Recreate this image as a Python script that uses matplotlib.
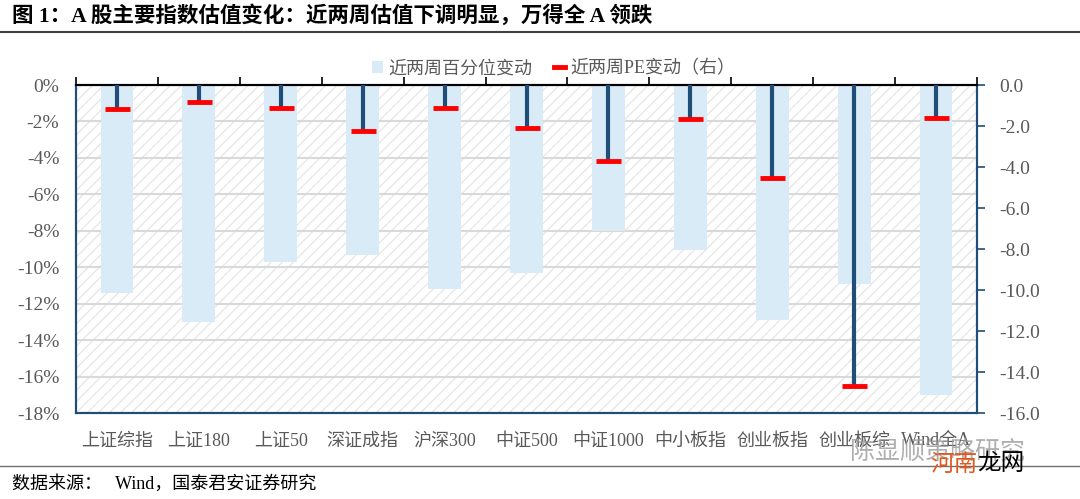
import numpy as np
import matplotlib
matplotlib.use('Agg')
import matplotlib.pyplot as plt
from matplotlib.patches import Rectangle, Patch
from matplotlib.lines import Line2D
from matplotlib.ticker import FuncFormatter

plt.rcParams['font.family'] = ['Liberation Serif', 'Noto Sans CJK SC']
plt.rcParams['hatch.linewidth'] = 0.8
plt.rcParams['axes.unicode_minus'] = False

categories = ['上证综指', '上证180', '上证50', '深证成指', '沪深300', '中证500',
              '中证1000', '中小板指', '创业板指', '创业板综', 'Wind全A']
pct_change = [-11.4, -13.0, -9.7, -9.35, -11.2, -10.3, -8.0, -9.05, -12.9, -10.9, -17.0]
pe_change = [-1.15, -0.85, -1.14, -2.23, -1.14, -2.08, -3.7, -1.66, -4.55, -14.7, -1.6]

navy = '#1F4E79'
bar_c = '#DAEBF8'
grey = '#595959'

fig = plt.figure(figsize=(10.8, 4.99), dpi=100)
ax = fig.add_axes([76/1080, 1-413/499, 901/1080, 328/499])
ax2 = ax.twinx()

x = np.arange(len(categories))
# hatched background
bg = Rectangle((0, 0), 1, 1, transform=ax.transAxes, facecolor='white',
               edgecolor='#E3E3E3', hatch='///', lw=0, zorder=0)
ax.add_patch(bg)
ax.set_axisbelow(True)
ax.yaxis.grid(True, color='#D9D9D9', lw=1.5)
ax.bar(x, pct_change, width=0.4, color=bar_c, zorder=2)

ax.set_xlim(-0.5, len(categories) - 0.5)
ax.set_ylim(-18, 0)
ax.set_yticks(np.arange(-18, 1, 2))
ax.yaxis.set_major_formatter(FuncFormatter(lambda v, p: '%d%%' % v))
ax.set_xticks(x)
ax.set_xticklabels(categories)
ax.set_xticks(np.arange(-0.5, len(categories), 1), minor=True)
ax.tick_params(axis='x', which='major', length=0, pad=14, labelsize=13, labelcolor=grey)
ax.tick_params(axis='x', which='minor', top=True, bottom=False, length=6,
               direction='out', color='black', width=1.2)
ax.tick_params(axis='y', length=0, labelsize=14, labelcolor=grey, pad=12)

# PE change: stems with red caps
ax2.vlines(x, 0, pe_change, color=navy, lw=3, zorder=3)
ax2.plot(x, pe_change, ls='none', marker='_', ms=18, mew=3.5, color='#FF0000', zorder=4)
ax2.set_ylim(-16, 0)
ax2.set_yticks(np.arange(-16, 1, 2))
ax2.yaxis.set_major_formatter(FuncFormatter(lambda v, p: '%.1f' % v))
ax2.tick_params(axis='y', length=6, width=1.2, color=navy, labelsize=14,
                labelcolor=grey, pad=10)

for a in (ax, ax2):
    for s in ('left', 'right', 'bottom'):
        a.spines[s].set_color(navy)
        a.spines[s].set_linewidth(1.5)
    a.spines['top'].set_color('black')
    a.spines['top'].set_linewidth(1.5)

handles = [Patch(facecolor=bar_c, edgecolor='none'),
           Line2D([], [], color='#FF0000', lw=3.5)]
ax.legend(handles, ['近两周百分位变动', '近两周PE变动（右）'], ncol=2,
          loc='lower center', bbox_to_anchor=(0.53, 0.985), frameon=False,
          fontsize=13, labelcolor=grey, handlelength=0.6, handletextpad=0.3,
          columnspacing=1.2, borderpad=0.2)

fig.text(12/1080, 1-16/499, '图 1：A 股主要指数估值变化：近两周估值下调明显，万得全 A 领跌',
         fontsize=15.5, fontweight='bold', va='center', ha='left', color='black')
fig.add_artist(Line2D([0, 1], [1-32/499]*2, color='#404040', lw=1.5))
fig.add_artist(Line2D([0, 1], [1-466/499]*2, color='#707070', lw=1))
fig.text(12/1080, 1-484/499, '数据来源：   Wind，国泰君安证券研究',
         fontsize=13, va='center', ha='left', color='black')

# watermark
fig.text(850/1080, 1-452/499, '陈显顺策略研究', fontsize=18, color='#9A9A9A',
         alpha=0.8, va='center', ha='left', family='Noto Sans CJK SC')
fig.text(930/1080, 1-464/499, '河南', fontsize=17, color='#E2571E',
         va='center', ha='left', family='Noto Sans CJK SC')
fig.text(977/1080, 1-464/499, '龙网', fontsize=17, color='black',
         va='center', ha='left', family='Noto Sans CJK SC')

fig.savefig('out.png', dpi=100)
